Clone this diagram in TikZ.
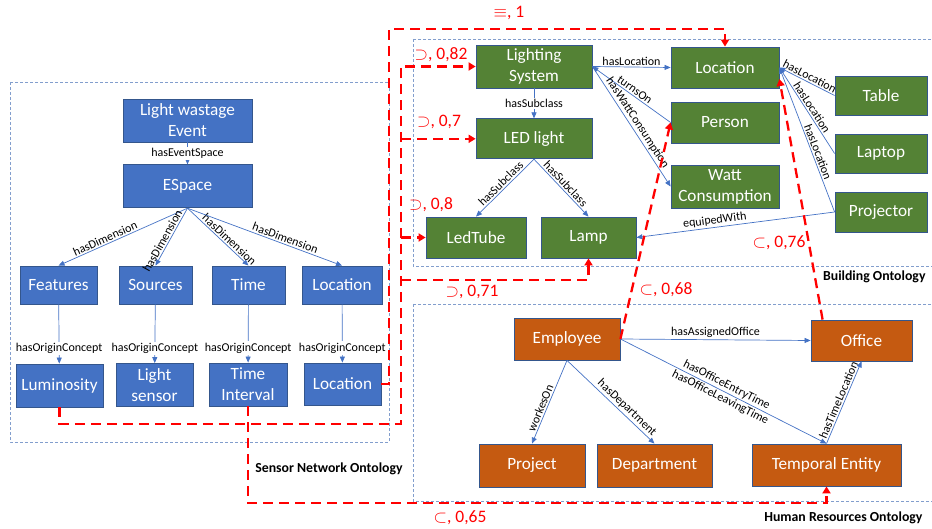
\documentclass[tikz,border=0pt]{standalone}
\usepackage{fontspec}
\setmainfont{Carlito}
\usetikzlibrary{positioning, arrows.meta}
\definecolor{sblue}{RGB}{68,114,196}
\definecolor{bgreen}{RGB}{84,130,53}
\definecolor{horange}{RGB}{197,90,17}
\definecolor{boxline}{RGB}{52,86,140}
\definecolor{framecol}{RGB}{130,158,205}
\definecolor{mapred}{RGB}{255,0,0}
\tikzstyle{concept}=[rectangle, draw=boxline, line width=.8pt, text=white, align=center, inner sep=2pt, minimum height=41pt, font=\fontsize{17.2}{21}\selectfont]
\tikzstyle{sensor}=[concept, fill=sblue]
\tikzstyle{building}=[concept, fill=bgreen]
\tikzstyle{hr}=[concept, fill=horange]
\tikzstyle{rel}=[draw=sblue, line width=.7pt, -{Triangle[length=6pt,width=5pt]}]
\tikzstyle{lbl}=[font=\fontsize{12}{14}\selectfont, inner sep=1.5pt, text=black]
\tikzstyle{mapping}=[draw=mapred, line width=2.3pt, dash pattern=on 10pt off 6pt, -{Triangle[length=7pt,width=8pt]}]
\tikzstyle{ontology}=[draw=framecol, line width=.7pt, dash pattern=on 3pt off 2pt]
\tikzstyle{onto}=[font=\bfseries\fontsize{13.8}{16}\selectfont]
\tikzstyle{score}=[text=mapred, font=\fontsize{17.5}{20}\selectfont, inner sep=1pt]

\begin{document}
\begin{tikzpicture}[x=1pt, y=-1pt]
            %three ontologies with the red alignments between their concepts
            \useasboundingbox (0,0) rectangle (932,529);
            \draw[ontology] (10,82) rectangle (389,442);
            \draw[ontology] (413,39) rectangle (940,266);
            \draw[ontology] (413,304) rectangle (940,501);
            \node[onto] (snolbl) at (329,469) {Sensor Network Ontology};
            \node[onto, anchor=east] (bolbl) at (929,277) {Building Ontology};
            \node[onto, anchor=east] (hrolbl) at (926,518) {Human Resources Ontology};

            \node[sensor, minimum width=129pt, minimum height=43pt] (lwe) at (187.5,120.5) {Light wastage\\Event};
            \node[sensor, minimum width=129pt, minimum height=43pt, below = 22pt of lwe] (espace) {ESpace};
            \node[sensor, minimum width=77pt, minimum height=38pt] (feat) at (58.5,285) {Features};
            \node[sensor, minimum width=73pt, minimum height=38pt] (src) at (155.5,285) {Sources};
            \node[sensor, minimum width=73pt, minimum height=38pt] (time) at (248.5,285) {Time};
            \node[sensor, minimum width=80pt, minimum height=38pt] (sloc) at (342,285) {Location};
            \node[sensor, minimum width=87pt, minimum height=43pt] (lum) at (59.5,385.5) {Luminosity};
            \node[sensor, minimum width=77pt, minimum height=43pt] (lsens) at (154.5,385) {Light\\sensor};
            \node[sensor, minimum width=78pt, minimum height=43pt] (tint) at (248,384.5) {Time\\Interval};
            \node[sensor, minimum width=77pt, minimum height=42pt] (sloc2) at (342.5,384) {Location};
            \draw[rel] (lwe) to node[lbl, fill=white]{hasEventSpace} (espace);
            \foreach \d/\p in {feat/.62, src/.62, time/.62, sloc/.62}{
                \draw[rel] (espace.south) to node[lbl, sloped, above, pos=\p]{hasDimension} (\d.north);
            }
            \foreach \d/\o in {feat/lum, src/lsens, time/tint, sloc/sloc2}{
                \draw[rel] (\d) to node[lbl, fill=white, pos=.75]{hasOriginConcept} (\o);
            }

            \node[building, minimum width=116pt, minimum height=43pt] (lsys) at (534,66.5) {Lighting\\System};
            \node[building, minimum width=116pt, minimum height=40pt, below = 30pt of lsys] (led) {LED light};
            \node[building, minimum width=100pt] (tube) at (476,237.5) {LedTube};
            \node[building, minimum width=95pt] (lamp) at (588.5,237.5) {Lamp};
            \node[building, minimum width=108pt] (bloc) at (725,67.5) {Location};
            \node[building, minimum width=108pt] (person) at (725,122.5) {Person};
            \node[building, minimum width=108pt, minimum height=43pt] (watt) at (725,186.5) {Watt\\Consumption};
            \node[building, minimum width=92pt, minimum height=39pt] (table) at (881,95.5) {Table};
            \node[building, minimum width=92pt, minimum height=39pt] (laptop) at (881,153.5) {Laptop};
            \node[building, minimum width=92pt, minimum height=40pt] (proj) at (881,212) {Projector};
            \draw[rel] (lsys.east) to node[lbl, above]{hasLocation} (bloc.west);
            \draw[rel] (person.west) to node[lbl, sloped, above]{turnsOn} (lsys.east);
            \draw[rel] (lsys.east) to node[lbl, sloped, above]{hasWattConsumption} (watt.west);
            \draw[rel] (lsys) to node[lbl, fill=white]{hasSubclass} (led);
            \foreach \n in {tube, lamp}{
                \draw[rel] (led.south) to node[lbl, sloped, above]{hasSubclass} (\n.north);
            }
            \foreach \n/\p in {table/.5, laptop/.5, proj/.4}{
                \draw[rel] (\n.west) to node[lbl, sloped, above, pos=\p]{hasLocation} (bloc.east);
            }
            \draw[rel] (proj.west) to node[lbl, sloped, above, pos=.6]{equipedWith} (lamp.east);

            \node[hr, minimum width=106pt, minimum height=42pt] (emp) at (567,339) {Employee};
            \node[hr, minimum width=106pt, minimum height=43pt] (project) at (532,465.5) {Project};
            \node[hr, minimum width=115pt, minimum height=43pt] (dept) at (654.5,465.5) {Department};
            \node[hr, minimum width=101pt] (office) at (861.5,340.5) {Office};
            \node[hr, minimum width=149pt, minimum height=42pt] (tent) at (826.5,465) {Temporal Entity};
            \draw[rel] (emp.east) to node[lbl, above]{hasAssignedOffice} (office.west);
            \draw[rel] (emp.east) to node[lbl, sloped, above]{hasOfficeEntryTime} node[lbl, sloped, below]{hasOfficeLeavingTime} (tent.north);
            \draw[rel] (tent.north) to node[lbl, sloped, above]{hasTimeLocation} (office.south);
            \draw[rel] (emp.south) to node[lbl, sloped, above, pos=.6]{workesOn} (project.north);
            \draw[rel] (emp.south) to node[lbl, sloped, above, pos=.63]{hasDepartment} (dept.north);

            \coordinate (eqtop) at (389,29);
            \coordinate (lumbus) at (401,424);
            \coordinate (lampbus) at (401,280);
            \coordinate (tbus) at (248,503);
            \draw[mapping] (sloc2.east) -| (eqtop) -| (bloc.north);
            \draw[mapping] (lum.south) |- (lumbus) |- (lsys.west);
            \draw[mapping] (lumbus |- led.west) to (led.west);
            \draw[mapping] (lumbus |- tube.west) to (tube.west);
            \draw[mapping] (lampbus) -| (lamp.south);
            \draw[mapping] (tint.south) to (tbus) -| (tent.south);
            \draw[mapping] (emp.east) to (person.west);
            \draw[mapping] ([xshift=12pt]office.north west) to (bloc.-12);
            \node[score] (s1) at (509,13) {$\equiv$, 1};
            \node[score] (s82) at (441,55) {$\supset$, 0,82};
            \node[score] (s7) at (439,122) {$\supset$, 0,7};
            \node[score] (s8) at (431,205) {$\supset$, 0,8};
            \node[score] (s71) at (472,292) {$\supset$, 0,71};
            \node[score] (s68) at (666,290) {$\subset$, 0,68};
            \node[score] (s76) at (779,243) {$\subset$, 0,76};
            \node[score] (s65) at (460,518) {$\subset$, 0,65};

        \end{tikzpicture}
\end{document}
